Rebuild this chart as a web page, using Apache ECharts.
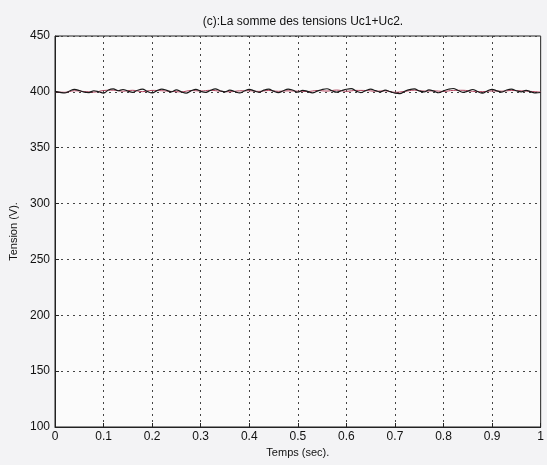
<!DOCTYPE html>
<html>
<head>
<meta charset="utf-8">
<script src="https://cdn.jsdelivr.net/npm/echarts@6/dist/echarts.min.js"></script>
<style>
  html, body { margin: 0; padding: 0; background: #f3f3f5; }
  #chart { width: 547px; height: 465px; }
</style>
</head>
<body>
<div id="chart"></div>
<script>
// Sum of the two capacitor voltages Uc1 + Uc2 over one second
const titleText = '(c):La somme des tensions Uc1+Uc2.';
const xTicks = [0, 0.1, 0.2, 0.3, 0.4, 0.5, 0.6, 0.7, 0.8, 0.9, 1];
const yTicks = [100, 150, 200, 250, 300, 350, 400, 450];

// measured sum, sampled every 10 ms
const sumStep = 0.01;
const sumVolts = [
  400.5, 399.6, 399.0, 400.8, 402.2, 401.2, 399.7, 399.4, 401.0, 400.1,
  398.9, 401.7, 402.6, 401.0, 402.1, 400.7, 399.6, 401.4, 402.4, 400.4,
  399.1, 401.1, 402.5, 401.3, 400.0, 401.8, 400.0, 398.9, 400.9, 402.3,
  400.5, 399.5, 401.3, 402.7, 401.0, 400.0, 401.6, 400.3, 399.0, 400.8,
  402.2, 400.9, 399.6, 401.5, 402.4, 400.6, 399.3, 401.0, 402.5, 401.4,
  399.8, 401.4, 400.4, 399.1, 400.7, 402.1, 402.8, 401.0, 399.7, 401.0,
  402.3, 402.9, 400.7, 399.4, 401.1, 402.4, 401.1, 399.9, 401.5, 400.2,
  398.8, 398.5, 400.5, 402.0, 402.6, 400.8, 399.9, 401.7, 400.6, 399.2,
  400.9, 402.3, 403.0, 401.2, 399.6, 400.6, 402.1, 400.3, 398.9, 400.8,
  402.2, 400.9, 399.8, 401.7, 402.5, 401.0, 400.0, 401.3, 400.0, 399.0,
  399.4
];

// reference trace, sampled every 20 ms
const refStep = 0.02;
const refVolts = [
  400.2, 399.6, 401.0, 400.3, 399.8, 401.2, 401.5, 400.6, 401.4, 400.2,
  401.3, 401.0, 400.4, 400.0, 401.2, 400.8, 401.4, 400.6, 400.1, 400.9,
  401.0, 400.4, 401.2, 400.5, 400.9, 400.6, 400.3, 401.2, 400.7, 401.6,
  400.5, 401.3, 401.2, 400.6, 400.9, 399.6, 400.4, 401.5, 400.7, 400.9,
  400.4, 401.3, 401.4, 400.5, 400.2, 400.8, 400.6, 401.2, 400.9, 400.4,
  399.8
];

const toPairs = (vals, step) => vals.map((v, i) => [+(i * step).toFixed(4), v]);

const chart = echarts.init(document.getElementById('chart'), null, { renderer: 'canvas' });
const fontFamily = '"Liberation Sans", Arial, sans-serif';
const gridDash = { color: '#444', type: [2, 4], width: 1 };

chart.setOption({
  backgroundColor: '#f3f3f5',
  animation: false,
  title: {
    text: titleText,
    left: 298, top: 11, textAlign: 'center',
    textStyle: { fontFamily, fontSize: 12, fontWeight: 'normal', color: '#111' }
  },
  grid: {
    left: 55, right: 6, top: 36, bottom: 38,
    show: true, backgroundColor: '#fbfbfb', borderColor: '#222', borderWidth: 1
  },
  xAxis: {
    type: 'value', min: 0, max: 1, interval: 0.1,
    name: 'Temps (sec).', nameLocation: 'middle', nameGap: 19,
    nameTextStyle: { fontFamily, fontSize: 11, color: '#111' },
    axisLine: { show: true, lineStyle: { color: '#222' } },
    axisTick: { show: true, inside: true, length: 4, lineStyle: { color: '#222' } },
    axisLabel: {
      fontFamily, fontSize: 12, color: '#111', margin: 4,
      formatter: v => { const t = xTicks.find(k => Math.abs(k - v) < 1e-9); return t === undefined ? '' : String(t); }
    },
    splitLine: { show: true, lineStyle: gridDash }
  },
  yAxis: {
    type: 'value', min: 100, max: 450, interval: 50,
    name: 'Tension (V).', nameLocation: 'middle', nameGap: 35, nameRotate: 90,
    nameTextStyle: { fontFamily, fontSize: 11, color: '#111' },
    axisLine: { show: true, lineStyle: { color: '#222' } },
    axisTick: { show: true, inside: true, length: 4, lineStyle: { color: '#222' } },
    axisLabel: {
      fontFamily, fontSize: 12, color: '#111', margin: 5,
      formatter: v => yTicks.includes(v) ? String(v) : ''
    },
    splitLine: { show: true, lineStyle: gridDash }
  },
  series: [
    {
      name: 'Uc ref', type: 'line', showSymbol: false, smooth: 0.4,
      data: toPairs(refVolts, refStep),
      lineStyle: { color: '#b0405a', width: 1 }
    },
    {
      name: 'Uc1+Uc2', type: 'line', showSymbol: false, smooth: 0.4,
      data: toPairs(sumVolts, sumStep),
      lineStyle: { color: '#1a1a1a', width: 1.2 }
    }
  ]
});
</script>
</body>
</html>
